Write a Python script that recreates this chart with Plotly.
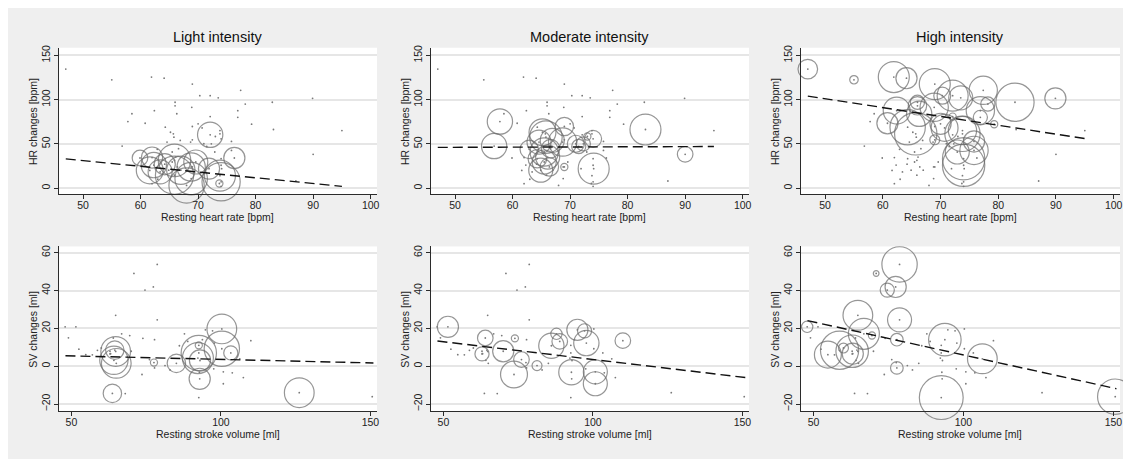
import plotly.graph_objects as go

# The page body adds an 8 px margin: the figure starts at (8, 8) of the window.
OFF = 8
W, H = 1131 - OFF, 459 - OFF

# ---------------- data ----------------
panel_titles = ["Light intensity", "Moderate intensity", "High intensity"]
hr_x_title = "Resting heart rate [bpm]"
hr_y_title = "HR changes [bpm]"
sv_x_title = "Resting stroke volume [ml]"
sv_y_title = "SV changes [ml]"

hr_xticks = [50, 60, 70, 80, 90, 100]
hr_yticks = [0, 50, 100, 150]
sv_xticks = [50, 100, 150]
sv_yticks = [-20, 0, 20, 40, 60]

# Heart rate: light intensity (baseline HR, change, study weight)
hr_light_x = [59.9, 62.0, 62.3, 61.6, 63.4, 64.2, 65.9, 65.9, 67.0, 68.8, 68.8, 69.6, 71.9, 74.0, 73.8, 73.7, 76.3, 72.1, 68.0]
hr_light_y = [34.0, 34.5, 26.0, 20.0, 18.3, 27.0, 31.4, 14.6, 20.2, 23.9, 10.8, 29.5, 22.0, 7.1, 14.0, 5.2, 34.0, 60.2, 3.0]
hr_light_w = [7.6, 14, 20, 22.6, 18, 14, 33, 45.6, 25, 25, 33, 18, 14, 45.6, 30, 1.6, 14, 20, 39]

# Heart rate: moderate intensity
hr_moderate_x = [57.8, 56.8, 62.9, 69.0, 69.0, 74.1, 83.1, 74.0, 73.0, 71.0, 71.5, 90.0, 65.8, 65.2, 64.6, 66.9, 68.7,
                 65.5, 66.1, 65.5, 64.9, 66.4, 64.3, 66.6, 72.3]
hr_moderate_y = [75.2, 47.5, 43.8, 69.6, 23.9, 22.0, 66.2, 55.7, 58.3, 50.1, 47.0, 38.2, 57.6, 63.1, 52.0, 53.9, 52.0,
                 40.8, 35.1, 29.5, 20.2, 23.9, 33.2, 44.6, 50.0]
hr_moderate_w = [20, 20, 10.6, 10.6, 1.6, 30, 30, 9, 1.6, 9, 6.25, 7.6, 33, 22.6, 18, 18, 25,
                 25, 18, 18, 18, 10.6, 10.6, 10.6, 6.25]

# Heart rate: high intensity
hr_high_x = [47.0, 55.0, 61.9, 64.1, 69.0, 77.4, 82.9, 72.1, 73.5, 70.3, 78.2, 76.9, 76.9, 79.3, 66.0, 66.0, 62.4,
             60.8, 68.9, 66.3, 64.3, 65.7, 70.0, 70.7, 69.0, 73.8, 73.8, 75.8, 75.8, 72.9, 74.0, 74.0, 89.9, 72.1]
hr_high_y = [134.5, 122.4, 125.5, 124.2, 117.5, 110.5, 97.0, 104.4, 102.0, 104.4, 95.0, 87.5, 80.0, 72.2, 97.0, 93.0,
             87.5, 73.3, 91.3, 84.0, 68.8, 61.3, 72.6, 68.0, 54.6, 61.3, 65.0, 52.7, 42.6, 40.8, 33.2, 25.8, 101.4, 80.8]
hr_high_w = [12, 2.25, 30, 14, 30, 25, 45.6, 30, 18, 9, 6.25, 25, 6.25, 1.6, 6.25, 10.6, 22.6,
             14, 25, 20, 39, 56, 14, 22.6, 3.1, 39, 25, 14, 25, 18, 56, 56, 14, 1.6]

# Heart rate: observations without a bubble
hr_other_x = [87.0, 95.0, 62.0, 74.0, 58.5, 63.0]
hr_other_y = [8.0, 65.0, 5.0, 2.0, 84.0, 10.0]

# Stroke volume: light intensity
sv_light_x = [100.3, 100.3, 103.3, 92.6, 92.3, 93.0, 92.6, 92.9, 85.1, 77.6, 64.8, 64.5, 64.2, 65.0, 63.7, 126.2]
sv_light_y = [19.7, 9.2, 7.0, 7.0, 4.3, 3.0, 11.0, -6.7, 1.5, 1.9, 7.8, 8.5, 3.1, 1.5, -14.4, -14.0]
sv_light_w = [27.6, 39, 6.25, 39, 30, 14, 1.6, 14, 10.6, 1.6, 27.6, 10.6, 25, 27.6, 10.6, 27.6]

# Stroke volume: moderate intensity
sv_moderate_x = [51.5, 64.0, 62.9, 70.0, 73.9, 73.6, 76.1, 81.3, 86.1, 87.8, 88.9, 92.8, 94.8, 97.2, 97.8, 100.8, 100.8, 110.0]
sv_moderate_y = [20.8, 14.9, 6.5, 7.9, 14.7, -4.4, 3.5, 0.3, 10.8, 17.1, 13.1, -3.2, 19.2, 18.7, 12.2, -3.0, -9.3, 13.5]
sv_moderate_w = [14, 7.6, 6.25, 14, 1.6, 22.6, 7.6, 3.1, 20, 4, 7.6, 20, 14, 6.25, 20, 18, 18, 7.6]

# Stroke volume: high intensity
sv_high_x = [47.9, 54.8, 58.7, 60.0, 62.9, 63.1, 64.8, 66.8, 69.5, 70.9, 74.6, 77.4, 78.7, 78.7, 77.8, 77.8, 93.8, 92.6, 106.3, 150.6]
sv_high_y = [20.8, 6.1, 8.4, 9.6, 7.9, 6.6, 26.9, 17.1, 16.2, 49.0, 40.2, 41.9, 53.8, 24.5, 14.0, -0.9, 14.0, -16.6, 3.9, -16.1]
sv_high_w = [4, 22.6, 45.6, 3.1, 33, 14, 27.6, 30, 1.6, 1, 6.25, 14, 39, 18, 5, 5, 33, 60, 27.6, 39]

# Stroke volume: observations without a bubble
sv_other_x = [49.0, 52.5, 57.0, 107.5, 103.8, 97.6, 83.0, 68.0]
sv_other_y = [15.0, 9.0, 6.0, -6.0, -3.5, -1.4, -2.0, -14.5]

# Fitted lines (end points)
hr_fit_x = [47, 95]
hr_light_fit = [33, 2]
hr_moderate_fit = [46, 47]
hr_high_fit = [104, 56]
sv_fit_x = [48, 151]
sv_light_fit = [5.5, 1.7]
sv_moderate_fit = [13.3, -6.0]
sv_high_fit = [24.1, -11.9]

# ---------------- styling / layout ----------------
FONT = "Liberation Sans, Arial, Helvetica, sans-serif"
BUBBLE_LINE = "#6a6a6a"
AXIS_COL = "#2b2b2b"

# pixel positions in the window (converted to figure fractions below)
cols_px = [(59, 378), (432, 751), (803, 1123)]
rows_px = [(45, 192.7), (245, 410.7)]


def fx_(px):
    return (px - OFF) / W


def fy_(py):
    return 1 - (py - OFF) / H


hr_dots_x = hr_light_x + hr_moderate_x + hr_high_x + hr_other_x
hr_dots_y = hr_light_y + hr_moderate_y + hr_high_y + hr_other_y
sv_dots_x = sv_light_x + sv_moderate_x + sv_high_x + sv_other_x
sv_dots_y = sv_light_y + sv_moderate_y + sv_high_y + sv_other_y

panels = [
    (0, 0, hr_light_x, hr_light_y, hr_light_w, hr_fit_x, hr_light_fit),
    (0, 1, hr_moderate_x, hr_moderate_y, hr_moderate_w, hr_fit_x, hr_moderate_fit),
    (0, 2, hr_high_x, hr_high_y, hr_high_w, hr_fit_x, hr_high_fit),
    (1, 0, sv_light_x, sv_light_y, sv_light_w, sv_fit_x, sv_light_fit),
    (1, 1, sv_moderate_x, sv_moderate_y, sv_moderate_w, sv_fit_x, sv_moderate_fit),
    (1, 2, sv_high_x, sv_high_y, sv_high_w, sv_fit_x, sv_high_fit),
]

fig = go.Figure()
layout_axes = {}
annotations = []

for i, (r, c, bx, by, bw, lx, ly) in enumerate(panels, start=1):
    xa = "x" if i == 1 else f"x{i}"
    ya = "y" if i == 1 else f"y{i}"
    dx = hr_dots_x if r == 0 else sv_dots_x
    dy = hr_dots_y if r == 0 else sv_dots_y

    fig.add_trace(go.Scatter(
        x=bx, y=by, mode="markers", xaxis=xa, yaxis=ya, cliponaxis=False,
        marker=dict(symbol="circle", size=bw, sizemode="area", sizeref=1 / 16,
                    color="rgba(0,0,0,0)", line=dict(color=BUBBLE_LINE, width=1.2)),
        showlegend=False, hoverinfo="x+y"))
    fig.add_trace(go.Scatter(
        x=dx, y=dy, mode="markers", xaxis=xa, yaxis=ya,
        marker=dict(symbol="circle", size=1.8, color="#7a7a7a", line=dict(width=0)),
        showlegend=False, hoverinfo="x+y"))
    fig.add_trace(go.Scatter(
        x=lx, y=ly, mode="lines", xaxis=xa, yaxis=ya,
        line=dict(color="#111111", width=1.4, dash="10px,5px"),
        showlegend=False, hoverinfo="skip"))

    x0, x1 = cols_px[c]
    y0, y1 = rows_px[r]
    xdom = [fx_(x0), fx_(x1)]
    ydom = [fy_(y1), fy_(y0)]
    if r == 0:
        xr, yr, xt, yt = [45.8, 101.1], [-7.2, 158.6], hr_xticks, hr_yticks
        xtitle, ytitle = hr_x_title, hr_y_title
    else:
        xr, yr, xt, yt = [45.8, 152.2], [-23.7, 63.3], sv_xticks, sv_yticks
        xtitle, ytitle = sv_x_title, sv_y_title

    common = dict(showline=True, linecolor=AXIS_COL, linewidth=1, ticks="outside", ticklen=4,
                  tickcolor=AXIS_COL, tickwidth=1, zeroline=False,
                  tickfont=dict(family=FONT, size=10.5, color="#222222"))
    layout_axes["xaxis" if i == 1 else f"xaxis{i}"] = dict(
        domain=xdom, range=xr, tickvals=xt, showgrid=False, anchor=ya,
        ticklabelstandoff=-3, **common)
    layout_axes["yaxis" if i == 1 else f"yaxis{i}"] = dict(
        domain=ydom, range=yr, tickvals=yt, showgrid=True, gridcolor="#e6e6e6", gridwidth=1.5,
        tickangle=-90, anchor=xa, **common)

    cxp = (x0 + x1) / 2
    if r == 0:
        annotations.append(dict(text=panel_titles[c], x=fx_(cxp), y=fy_(34), xref="paper", yref="paper",
                                showarrow=False, xanchor="center", yanchor="middle",
                                font=dict(family=FONT, size=14.5, color="#111111")))
    annotations.append(dict(text=xtitle, x=fx_(cxp), y=fy_(y1 + 23), xref="paper", yref="paper",
                            showarrow=False, xanchor="center", yanchor="middle",
                            font=dict(family=FONT, size=10.5, color="#222222")))
    annotations.append(dict(text=ytitle, x=fx_(x0 - 26), y=fy_((y0 + y1) / 2), xref="paper", yref="paper",
                            showarrow=False, xanchor="center", yanchor="middle", textangle=-90,
                            font=dict(family=FONT, size=10.5, color="#222222")))

fig.update_layout(
    width=W, height=H, margin=dict(l=0, r=0, t=0, b=0),
    paper_bgcolor="#efefef", plot_bgcolor="white",
    showlegend=False, annotations=annotations,
    **layout_axes)

fig.write_html("out.html")
